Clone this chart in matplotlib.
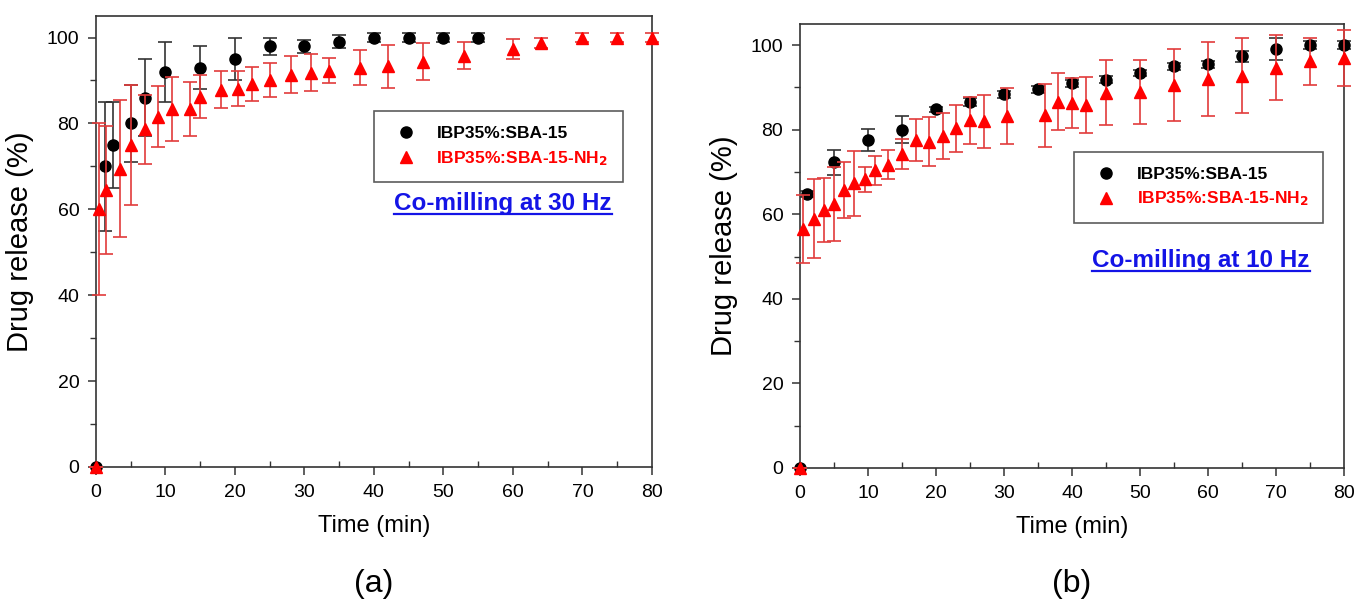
"""
Drug release profiles of IBP35% loaded SBA-15 and SBA-15-NH2 after co-milling.
"""

import matplotlib
matplotlib.use("Agg")
import matplotlib.pyplot as plt
from matplotlib.lines import Line2D
from matplotlib.ticker import MultipleLocator

# (a) co-milling at 30 Hz
t_a_black = [0, 1.3, 2.4, 5, 7, 10, 15, 20, 25, 30, 35, 40, 45, 50, 55]
y_a_black = [0, 70, 75, 80, 86, 92, 93, 95, 98, 98, 99, 100, 100, 100, 100]
e_a_black = [0, 15, 10, 9, 9, 7, 5, 5, 2, 1.5, 1.5, 1, 1, 1, 1]

t_a_red = [0, 0.5, 1.4, 3.5, 5, 7, 9, 11, 13.5, 15, 18, 20.5, 22.5, 25, 28, 31,
           33.5, 38, 42, 47, 53, 60, 64, 70, 75, 80]
y_a_red = [0, 60, 64.5, 69.5, 75, 78.6, 81.6, 83.4, 83.4, 86.2, 87.9, 88.1, 89.2,
           90.1, 91.3, 91.8, 92.3, 93, 93.3, 94.4, 95.8, 97.3, 98.7, 100, 100, 100]
e_a_red = [0, 20, 15, 16, 14, 8, 7, 7.5, 6.3, 5, 4.4, 4, 4, 4, 4.3, 4.3, 3, 4, 5,
           4.3, 3.2, 2.3, 1.2, 1, 1, 1]

# (b) co-milling at 10 Hz
t_b_black = [0, 1, 5, 10, 15, 20, 25, 30, 35, 40, 45, 50, 55, 60, 65, 70, 75, 80]
y_b_black = [0, 64.8, 72.3, 77.5, 80, 84.8, 86.6, 88.4, 89.6, 91, 91.8, 93.4, 95,
             95.5, 97.4, 99.2, 100, 100]
e_b_black = [0, 0.7, 3, 2.6, 3.2, 0.5, 1, 0.8, 0.8, 0.8, 0.8, 0.8, 0.8, 0.8, 1.3,
             2.6, 1, 1]

t_b_red = [0, 0.5, 2, 3.5, 5, 6.5, 8, 9.5, 11, 13, 15, 17, 19, 21, 23, 25, 27,
           30.5, 36, 38, 40, 42, 45, 50, 55, 60, 65, 70, 75, 80]
y_b_red = [0, 56.5, 59, 61, 62.5, 65.7, 67.3, 68.3, 70.4, 71.7, 74.2, 77.5, 77.2,
           78.5, 80.3, 82.2, 82, 83.3, 83.4, 86.6, 86.3, 85.8, 88.8, 88.9, 90.6,
           92, 92.8, 94.7, 96.2, 97]
e_b_red = [0, 8, 9.4, 7.5, 8.7, 6.6, 7.6, 3, 3.4, 3.4, 3.6, 5, 5.7, 5.4, 5.5, 5.5,
           6.3, 6.6, 7.4, 6.7, 6, 6.6, 7.6, 7.6, 8.6, 8.8, 8.8, 7.6, 5.6, 6.6]

labels = ["IBP35%:SBA-15", "IBP35%:SBA-15-NH$_{\\mathbf{2}}$"]
notes = ["Co-milling at 30 Hz", "Co-milling at 10 Hz"]
panel_tags = ["(a)", "(b)"]

plt.rcParams["font.family"] = ["Liberation Sans", "DejaVu Sans"]
plt.rcParams["mathtext.default"] = "regular"

FRAME = "#333333"
ERR_RED = "#e23b3b"
BLUE = "#1414e6"


def panel(fig, rect, black, red, note, note_xy, leg_xy, tag):
    ax = fig.add_axes(rect)

    tb, yb, eb = black
    tr, yr, er = red
    hb = ax.errorbar(tb, yb, yerr=eb, fmt="o", color="black", ecolor=FRAME,
                     ms=8, elinewidth=1.2, capsize=5, capthick=1.2,
                     clip_on=False, zorder=3)
    hr = ax.errorbar(tr, yr, yerr=er, fmt="^", color="red", ecolor=ERR_RED,
                     ms=8, elinewidth=1.2, capsize=5, capthick=1.2,
                     clip_on=False, zorder=4)
    for h in (hb, hr):
        for art in h.lines[1] + h.lines[2]:
            art.set_clip_on(False)

    ax.set_xlim(0, 80)
    ax.set_ylim(0, 105)
    ax.xaxis.set_major_locator(MultipleLocator(10))
    ax.xaxis.set_minor_locator(MultipleLocator(5))
    ax.yaxis.set_major_locator(MultipleLocator(20))
    ax.yaxis.set_minor_locator(MultipleLocator(10))
    ax.tick_params(which="major", direction="out", length=6, width=1.1,
                   color=FRAME, labelsize=14, pad=6)
    ax.tick_params(axis="x", which="minor", direction="in", length=4,
                   width=1.0, color=FRAME)
    ax.tick_params(axis="y", which="minor", direction="out", length=4,
                   width=1.0, color=FRAME)
    for s in ax.spines.values():
        s.set_color(FRAME)
        s.set_linewidth(1.2)

    ax.set_xlabel("Time (min)", fontsize=17, labelpad=10)
    ax.set_ylabel("Drug release (%)", fontsize=21, labelpad=9)

    handles = [Line2D([], [], ls="none", marker="o", color="black", ms=8),
               Line2D([], [], ls="none", marker="^", color="red", ms=8)]
    leg = ax.legend(handles, labels, loc="upper left", bbox_to_anchor=leg_xy,
                    borderaxespad=0, borderpad=0.85, handlelength=2.0,
                    handletextpad=0.75, labelspacing=0.45, fancybox=False,
                    labelcolor=["black", "red"],
                    prop={"weight": "bold", "size": 12.5})
    leg.get_frame().set_edgecolor(FRAME)
    leg.get_frame().set_linewidth(1.2)

    txt = ax.text(note_xy[0], note_xy[1], note, transform=ax.transAxes,
                  ha="center", va="center", fontsize=17.5, fontweight="bold",
                  color=BLUE)

    fig.text(rect[0] + rect[2] / 2, 0.03, tag, ha="center", va="center",
             fontsize=23)
    return txt


fig = plt.figure(figsize=(13.55, 6.02), dpi=100)

notes_txt = []
notes_txt.append(panel(fig, [0.0708, 0.2243, 0.4103, 0.749],
                       (t_a_black, y_a_black, e_a_black),
                       (t_a_red, y_a_red, e_a_red),
                       notes[0], (0.732, 0.585), (0.50, 0.789), panel_tags[0]))
notes_txt.append(panel(fig, [0.5904, 0.2226, 0.4015, 0.7375],
                       (t_b_black, y_b_black, e_b_black),
                       (t_b_red, y_b_red, e_b_red),
                       notes[1], (0.737, 0.468), (0.504, 0.712), panel_tags[1]))

# underline the co-milling notes
fig.canvas.draw()
renderer = fig.canvas.get_renderer()
inv = fig.transFigure.inverted()
for txt in notes_txt:
    bb = txt.get_window_extent(renderer)
    (x0, y0), (x1, _) = inv.transform([(bb.x0, bb.y0 + 1), (bb.x1, bb.y0 + 1)])
    fig.add_artist(Line2D([x0, x1], [y0, y0], transform=fig.transFigure,
                          color=BLUE, lw=1.6))

fig.savefig("out.png", dpi=100)
